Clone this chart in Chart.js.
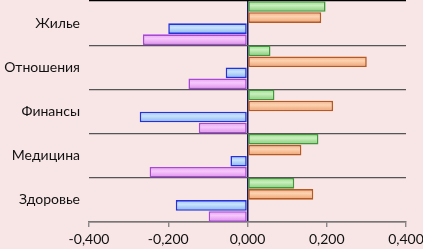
<!DOCTYPE html>
<html><head><meta charset="utf-8">
<script src="https://cdn.jsdelivr.net/npm/chart.js@4/dist/chart.umd.min.js"></script>
<style>html,body{margin:0;padding:0;background:#f8e5e5;}#wrap{width:423px;height:249px;position:relative;}</style>
</head><body><div id="wrap"><canvas id="c"></canvas></div>
<script>
const categories = ["Жилье", "Отношения", "Финансы", "Медицина", "Здоровье"];
const seriesGreen  = [0.197, 0.058, 0.068, 0.179, 0.118];
const seriesOrange = [0.186, 0.301, 0.216, 0.136, 0.166];
const seriesBlue   = [-0.200, -0.055, -0.272, -0.043, -0.181];
const seriesPurple = [-0.264, -0.149, -0.123, -0.247, -0.098];
const xMin = -0.4, xMax = 0.4, xStep = 0.2;

const fontFam = "Lato, 'Open Sans', sans-serif";
function grad(edge, light, dark){
  return function(ctx){
    const el = ctx.element;
    if (!el || typeof el.y !== 'number' || !el.height) return light;
    const c = ctx.chart.ctx;
    const g = c.createLinearGradient(0, el.y - el.height/2, 0, el.y + el.height/2);
    g.addColorStop(0, edge);
    g.addColorStop(0.4, light);
    g.addColorStop(1, dark);
    return g;
  };
}
function ds(data, fill, border){
  return {data, backgroundColor: fill, borderColor: border, borderWidth: 1.6,
          categoryPercentage: 1.0, barPercentage: 0.96, borderSkipped: false};
}
const chart = new Chart(document.getElementById('c'), {
  type: 'bar',
  data: {
    labels: categories,
    datasets: [
      ds(seriesGreen, grad('#9bd88c', '#c8f0bd', '#86c978'), '#3f993c'),
      ds(seriesOrange, grad('#f3ae7e', '#fcd3b2', '#eea06c'), '#b55a22'),
      ds(seriesBlue, grad('#98c2f6', '#c8e2fc', '#86b4f0'), '#2432dc'),
      ds(seriesPurple, grad('#e79cf4', '#f6c8fb', '#df8cee'), '#a848d8')
    ]
  },
  options: {
    indexAxis: 'y',
    responsive: true,
    maintainAspectRatio: false,
    animation: false,
    layout: {padding: {top: 1, right: 17, left: 0, bottom: 0}},
    plugins: {legend: {display: false}, tooltip: {enabled: false}},
    scales: {
      x: {
        min: xMin, max: xMax,
        ticks: {stepSize: xStep, color: '#111', font: {family: fontFam, size: 14},
                padding: 4,
                callback: v => v.toFixed(3).replace('.', ',')},
        grid: {
          color: c => (Math.abs(c.tick ? c.tick.value : 1) < 1e-9 ? '#1a1a50' : 'rgba(0,0,0,0)'),
          tickColor: '#777', tickLength: 5, lineWidth: 1.5, tickWidth: 1.2
        },
        border: {display: true, color: '#777', width: 1.5},
        afterFit: s => { s.height = 27; s.paddingLeft = 0; s.paddingRight = 0; }
      },
      y: {
        ticks: {color: '#111', font: {family: fontFam, size: 14}, padding: 9},
        grid: {
          offset: true, drawTicks: false,
          color: c => (c.index === 0 ? '#000' : '#555'),
          lineWidth: 1.2
        },
        border: {display: false},
        afterFit: s => { s.width = 89; s.paddingTop = 0; s.paddingBottom = 0; }
      }
    }
  }
});
chart.update('none');
</script></body></html>
